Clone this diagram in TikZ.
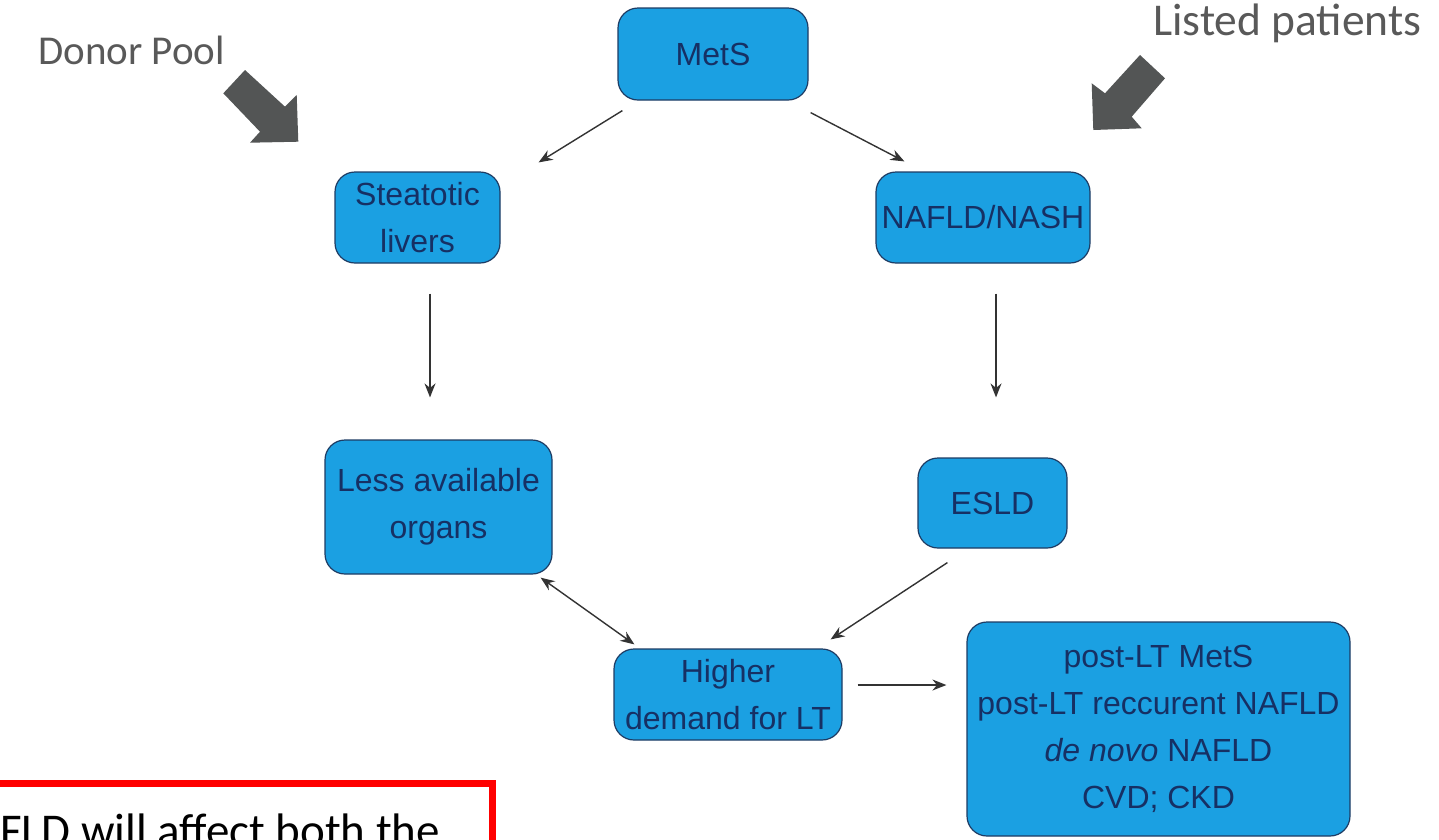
\documentclass[tikz,border=0pt]{standalone}
\usepackage{fontspec}
\setmainfont{Liberation Sans}
\newfontfamily\calibri{Carlito}
\usetikzlibrary{arrows.meta,calc}
\definecolor{boxfill}{RGB}{27,160,226}
\definecolor{boxline}{RGB}{30,60,100}
\definecolor{boxtext}{RGB}{22,48,100}
\definecolor{bigarrow}{RGB}{83,85,85}
\definecolor{labelgray}{RGB}{89,89,89}
\begin{document}
\begin{tikzpicture}[x=1pt,y=-1pt,
  flowbox/.style={draw=boxline, line width=1.2pt, fill=boxfill, rounded corners=20pt,
    text=boxtext, font=\fontsize{32}{47}\selectfont, align=center, inner sep=0pt},
  link/.style={draw=black!80, line width=1.4pt, -{Stealth[length=14pt,width=11pt]}},
  biglabel/.style={text=labelgray, inner sep=0pt, anchor=base west},
  fatarrow/.style={fill=bigarrow},
]
\useasboundingbox (0,0) rectangle (1439,839);
\fill[white] (0,0) rectangle (1439,839);

% boxes
\node[flowbox, minimum width=190pt, minimum height=92pt] (mets) at (713,54) {MetS};
\node[flowbox, minimum width=165pt, minimum height=91pt] (steat) at (417.5,217.5) {Steatotic\\livers};
\node[flowbox, minimum width=214pt, minimum height=91pt] (nafld) at (983,217.5) {NAFLD/NASH};
\node[flowbox, minimum width=227pt, minimum height=134pt] (less) at (438.5,507) {Less available\\organs};
\node[flowbox, minimum width=149pt, minimum height=90pt] (esld) at (992.5,503) {ESLD};
\node[flowbox, minimum width=228pt, minimum height=91pt] (higher) at (728,694.5) {Higher\\demand for LT};
\node[flowbox, minimum width=383pt, minimum height=214pt] (post) at (1158.5,729) {post-LT MetS\\post-LT reccurent NAFLD\\\textit{de novo} NAFLD\\CVD; CKD};

% connectors
\draw[link] ($(mets.south west)+(5,10)$) -- ($(steat.north east)+(38,-9)$);
\draw[link] ($(mets.south east)+(2,12)$) -- ($(nafld.north west)+(29,-10)$);
\draw[link] ($(steat.south)+(12.5,30)$) -- ($(less.north)+(-8.5,-42)$);
\draw[link] ($(nafld.south)+(13,30)$) -- ($(esld.north)+(3.5,-60)$);
\draw[link, {Stealth[length=14pt,width=11pt]}-{Stealth[length=14pt,width=11pt]}] ($(less.south east)+(-12,3)$) -- ($(higher.north west)+(21,-4)$);
\draw[link] ($(esld.south west)+(30,14)$) -- ($(higher.north east)+(-12,-9)$);
\draw[link] ($(higher.east)+(15,-9.5)$) -- ($(post.west)+(-20,-44)$);

% thick gray arrows
\fill[fatarrow] (245,70) -- (223.3,93.3) -- (260,131.7) -- (250,142.7) -- (298.3,141.7) -- (296.7,95) -- (285,106.7) -- cycle;
\fill[fatarrow] (1140,55) -- (1165,78.3) -- (1131.7,116.7) -- (1141.7,128.3) -- (1093.3,130) -- (1091.7,83.3) -- (1105,93.3) -- cycle;

% labels
\node[biglabel, font=\calibri\fontsize{41}{48}\selectfont] (donor) at (38,64) {Donor Pool};
\node[biglabel, font=\calibri\fontsize{45.5}{52}\selectfont] (listed) at (1153,35) {Listed patients};

% red note box
\draw[red, line width=7pt] (-20,783) rectangle (492,900);
\node[anchor=base west, inner sep=0pt, font=\calibri\fontsize{47}{56}\selectfont] (note) at (0,846) {FLD will affect both the};
\end{tikzpicture}
\end{document}
